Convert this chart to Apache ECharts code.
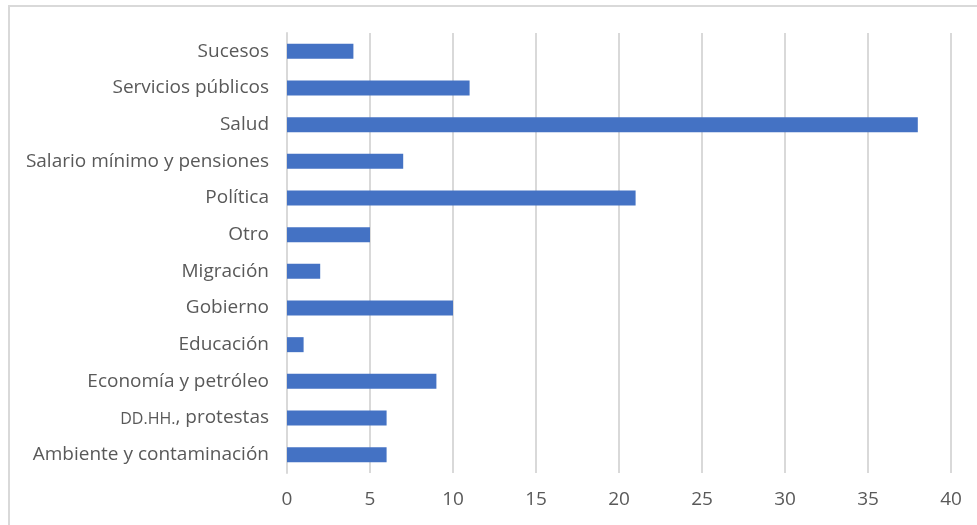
<!DOCTYPE html>
<html><head><meta charset="utf-8">
<script src="https://cdn.jsdelivr.net/npm/echarts@6/dist/echarts.min.js"></script>
<style>html,body{margin:0;padding:0;background:#fff}#c{width:977px;height:525px}</style>
</head><body><div id="c"></div>
<script>
const categories = ["Ambiente y contaminación","DD.HH., protestas","Economía y petróleo","Educación","Gobierno","Migración","Otro","Política","Salario mínimo y pensiones","Salud","Servicios públicos","Sucesos"];
const values = [6,6,9,1,10,2,5,21,7,38,11,4];
const xTicks = [0,5,10,15,20,25,30,35,40];
const chart = echarts.init(document.getElementById('c'));
const font = '"Open Sans", sans-serif';
chart.setOption({
  animation:false,
  graphic:[{type:'rect',shape:{x:9,y:6,width:1000,height:600},style:{fill:'none',stroke:'#d9d9d9',lineWidth:2},silent:true}],
  grid:{left:287,right:26,top:33,bottom:52,containLabel:false},
  xAxis:{type:'value',min:xTicks[0],max:xTicks[xTicks.length-1],interval:5,
    axisLine:{show:false},axisTick:{show:false},
    splitLine:{lineStyle:{color:'#d9d9d9',width:2}},
    axisLabel:{color:'#595959',fontSize:19,fontFamily:font,margin:17}},
  yAxis:{type:'category',data:categories,
    axisLine:{show:true,lineStyle:{color:'#d9d9d9',width:2}},axisTick:{show:false},
    axisLabel:{color:'#595959',fontSize:19,fontFamily:font,margin:18,
      formatter:function(v){
        if(v.indexOf('DD.HH.')===0){return '{sc|DD.HH.}'+v.slice(6);}
        return v;
      },
      rich:{sc:{fontSize:16,fontFamily:font,color:'#595959',padding:[2,0,0,0]}}}},
  series:[{type:'bar',data:values,barWidth:15,itemStyle:{color:'#4472c4'}}]
});
</script></body></html>
